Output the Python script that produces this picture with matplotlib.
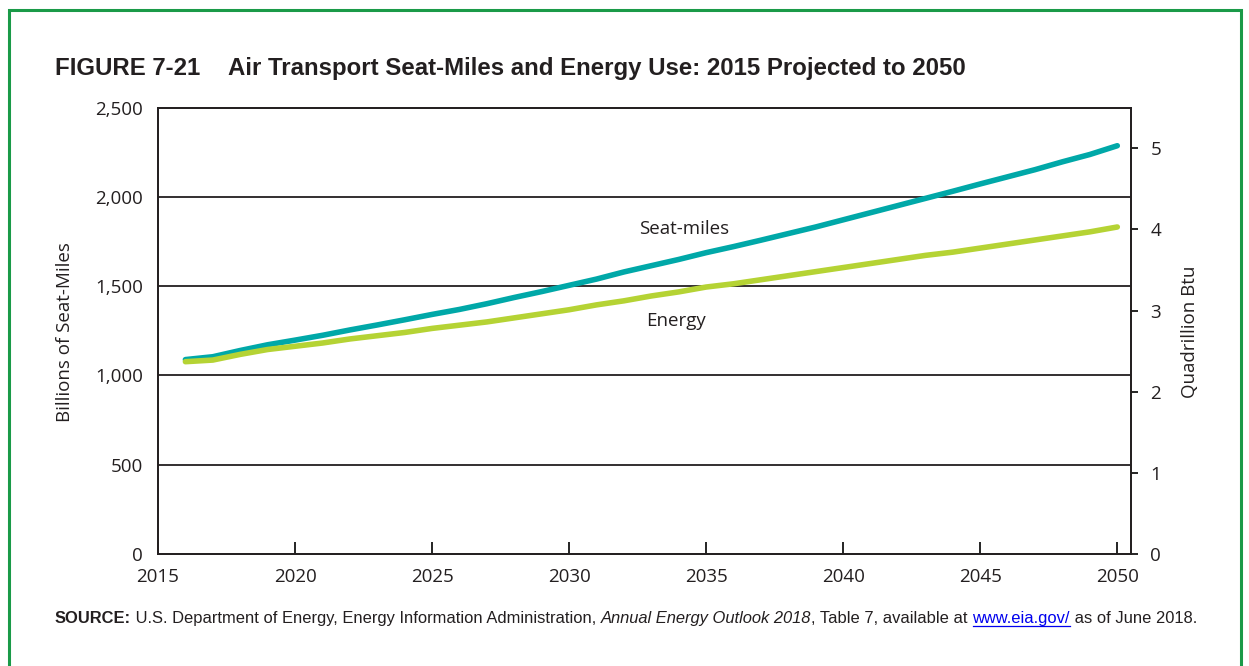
import matplotlib
matplotlib.use("Agg")
import matplotlib.pyplot as plt
import matplotlib.ticker as ticker
from matplotlib.patches import Rectangle
from matplotlib.lines import Line2D

years = list(range(2016, 2051))
seat_miles = [1089, 1105, 1140, 1172, 1198, 1225, 1255, 1283, 1312, 1342,
              1370, 1402, 1437, 1470, 1505, 1540, 1580, 1615, 1650, 1688,
              1722, 1758, 1795, 1832, 1872, 1912, 1952, 1992, 2032, 2073,
              2113, 2153, 2197, 2238, 2287]
energy = [2.37, 2.39, 2.46, 2.52, 2.56, 2.60, 2.65, 2.69, 2.73, 2.78,
          2.82, 2.86, 2.91, 2.96, 3.01, 3.07, 3.12, 3.18, 3.23, 3.29,
          3.33, 3.38, 3.43, 3.48, 3.53, 3.58, 3.63, 3.68, 3.72, 3.77,
          3.82, 3.87, 3.92, 3.97, 4.03]
left_ticks = [0, 500, 1000, 1500, 2000, 2500]
right_ticks = [0, 1, 2, 3, 4, 5]
x_ticks = [2015, 2020, 2025, 2030, 2035, 2040, 2045, 2050]

teal = '#00a8a8'
lime = '#b5d334'
ink = '#231f20'
tick_font = ['Open Sans', 'DejaVu Sans']
sans = ['Liberation Sans', 'DejaVu Sans']
W, H = 1249, 666

fig = plt.figure(figsize=(12.49, 6.66), dpi=100)
ax = fig.add_axes([158/W, 1 - 554/H, (1131 - 158)/W, (554 - 107.7)/H])
ax2 = ax.twinx()

ax.set_xlim(2015, 2050.5)
ax.set_ylim(0, 2500)
ax2.set_ylim(0, 5.5)

for v in left_ticks[1:-1]:
    ax.axhline(v, color=ink, lw=1.3, zorder=1)

ax.plot(years, seat_miles, color=teal, lw=4.0, solid_capstyle='round', zorder=3)
ax2.plot(years, energy, color=lime, lw=4.0, solid_capstyle='round', zorder=3)

ax.set_yticks(left_ticks)
ax.yaxis.set_major_formatter(ticker.FuncFormatter(lambda v, p: f'{int(v):,}'))
ax.tick_params(axis='y', length=0, pad=11)
ax.set_xticks(x_ticks)
ax.tick_params(axis='x', direction='in', length=9, width=1.2, pad=10)
ax2.set_yticks(right_ticks)
ax2.tick_params(axis='y', direction='out', length=5, width=1.2, pad=9)
for lab in ax.get_xticklabels() + ax.get_yticklabels() + ax2.get_yticklabels():
    lab.set_family(tick_font)
    lab.set_fontsize(13.5)
    lab.set_color(ink)
for a in (ax, ax2):
    for s in a.spines.values():
        s.set_linewidth(1.3)
        s.set_color(ink)

fig.text(65/W, 1 - 332/H, 'Billions of Seat-Miles', rotation=90, ha='center', va='center',
         family=tick_font, fontsize=13.5, color=ink)
fig.text(1190/W, 1 - 332/H, 'Quadrillion Btu', rotation=90, ha='center', va='center',
         family=tick_font, fontsize=13.5, color=ink)
ax.text(2034.2, 1818, 'Seat-miles', ha='center', va='center', family=tick_font, fontsize=13.5, color=ink)
ax.text(2033.9, 1307, 'Energy', ha='center', va='center', family=tick_font, fontsize=13.5, color=ink)

fig.text(55/W, 1 - 75/H, 'FIGURE 7-21', ha='left', va='baseline', family=sans,
         fontsize=17.3, fontweight='bold', color=ink)
fig.text(228/W, 1 - 75/H, 'Air Transport Seat-Miles and Energy Use: 2015 Projected to 2050',
         ha='left', va='baseline', family=sans, fontsize=17.3, fontweight='bold', color=ink)

# source line pieces
renderer = fig.canvas.get_renderer()
pieces = [('SOURCE:', 'bold', 'normal', ink),
          (' U.S. Department of Energy, Energy Information Administration, ', 'normal', 'normal', ink),
          ('Annual Energy Outlook 2018', 'normal', 'italic', ink),
          (', Table 7, available at ', 'normal', 'normal', ink),
          ('www.eia.gov/', 'normal', 'normal', '#0000ee'),
          (' as of June 2018.', 'normal', 'normal', ink)]
xpix = 55
ypix = H - 623
for txt, wt, st, col in pieces:
    t = fig.text(xpix/W, ypix/H, txt, ha='left', va='baseline', family=sans,
                 fontsize=11.9, fontweight=wt, style=st, color=col)
    bb = t.get_window_extent(renderer)
    if txt.startswith('www'):
        fig.add_artist(Line2D([bb.x0/W, bb.x1/W], [(ypix - 3)/H]*2, color=col, lw=0.9))
    xpix = bb.x1

# green frame
fig.add_artist(Rectangle((9/W, -0.1), (1241 - 9)/W, 1 - 10/H + 0.1, transform=fig.transFigure,
                         fill=False, edgecolor='#1a9a48', lw=2.2))

fig.savefig('out.png', dpi=100)
